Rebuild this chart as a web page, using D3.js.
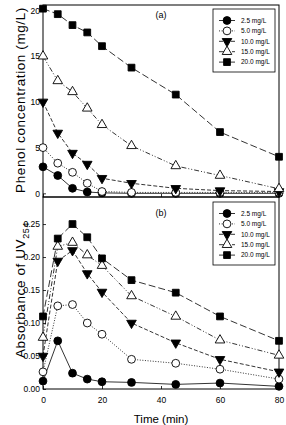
<!DOCTYPE html>
<html>
<head>
<meta charset="utf-8">
<script src="https://cdn.jsdelivr.net/npm/d3@7/dist/d3.min.js"></script>
<style>
  body { margin: 0; background: #fff; }
  svg text { font-family: "Liberation Sans", Arial, sans-serif; fill: #000; }
  .tick text { font-size: 8.5px; }
  .legend-text { font-family: "Liberation Sans Narrow", "Liberation Sans", Arial, sans-serif; font-size: 6.5px; }
</style>
</head>
<body>
<svg width="286" height="425"></svg>
<script>
// Sampling times (min), shared by both panels
const times = [0, 5, 10, 15, 20, 30, 45, 60, 80];
const seriesLabels = ["2.5 mg/L", "5.0 mg/L", "10.0 mg/L", "15.0 mg/L", "20.0 mg/L"];

// (a) phenol concentration, mg/L
const phenol25 = [2.9, 1.95, 0.55, 0.15, 0.05, 0.0, 0.0, 0.0, 0.0];
const phenol50 = [5.0, 3.3, 2.3, 1.1, 0.2, 0.1, 0.1, 0.1, 0.1];
const phenol100 = [10.0, 6.6, 4.4, 3.2, 1.65, 1.1, 0.55, 0.3, 0.2];
const phenol150 = [15.0, 12.3, 11.1, 9.3, 7.5, 5.2, 3.0, 1.95, 0.5];
const phenol200 = [20.2, 19.6, 18.4, 17.6, 16.1, 13.75, 10.8, 6.7, 4.0];

// (b) absorbance at 254 nm
const uv25 = [0.012, 0.073, 0.024, 0.015, 0.011, 0.01, 0.007, 0.009, 0.004];
const uv50 = [0.026, 0.126, 0.128, 0.1, 0.083, 0.045, 0.039, 0.03, 0.015];
const uv100 = [0.05, 0.194, 0.21, 0.175, 0.147, 0.1, 0.07, 0.045, 0.026];
const uv150 = [0.078, 0.216, 0.222, 0.203, 0.187, 0.141, 0.11, 0.074, 0.051];
const uv200 = [0.11, 0.228, 0.25, 0.23, 0.198, 0.165, 0.146, 0.11, 0.073];

// tick labels
const xTicks = [0, 20, 40, 60, 80];
const phenolTicks = [0, 5, 10, 15, 20];
const uvTicks = [0, 0.05, 0.1, 0.15, 0.2, 0.25];

const phenolSeries = [phenol25, phenol50, phenol100, phenol150, phenol200];
const uvSeries = [uv25, uv50, uv100, uv150, uv200];

// Marker + line style for each concentration
const styles = [
  { symbol: d3.symbolCircle, size: 48, fill: "#000", rotate: 0, dash: null },
  { symbol: d3.symbolCircle, size: 48, fill: "#fff", rotate: 0, dash: "1,1.6" },
  { symbol: d3.symbolTriangle, size: 40, fill: "#000", rotate: 180, dash: "4,2" },
  { symbol: d3.symbolTriangle, size: 40, fill: "#fff", rotate: 0, dash: "5,2,1,2,1,2" },
  { symbol: d3.symbolSquare, size: 46, fill: "#000", rotate: 0, dash: "7,3" }
];

svg = d3.select("svg");

// both panels share the same x range
x = d3.scaleLinear().domain([0, 80]).range([43, 279]);

panels = [
  {
    data: phenolSeries,
    y: d3.scaleLinear().domain([-0.4, 20.6]).range([197, 5]),
    ticks: phenolTicks,
    fmt: d3.format("d"),
    tag: "(a)",
    tagY: 18,
    legendTop: 9,
    xLabels: false
  },
  {
    data: uvSeries,
    y: d3.scaleLinear().domain([0, 0.291]).range([389, 197]),
    ticks: uvTicks,
    fmt: d3.format(".2f"),
    tag: "(b)",
    tagY: 216,
    legendTop: 202,
    xLabels: true
  }
];

panels.forEach(function(p) {
  const top = p.y.range()[1];
  const bottom = p.y.range()[0];
  const g = svg.append("g");

  // y axis, ticks pointing inward
  const yAxis = d3.axisLeft(p.y).tickValues(p.ticks).tickFormat(p.fmt)
    .tickSize(-3).tickPadding(3).tickSizeOuter(0);
  g.append("g").attr("transform", "translate(43,0)").call(yAxis)
    .call(function(s) { s.select(".domain").remove(); });

  // x axis at the bottom of the panel
  const xAxis = d3.axisBottom(x).tickValues(xTicks).tickSize(-3).tickPadding(8).tickSizeOuter(0);
  const xg = g.append("g").attr("transform", "translate(0," + bottom + ")").call(xAxis);
  xg.select(".domain").remove();
  if (!p.xLabels) xg.selectAll("text").remove();

  g.selectAll(".tick line").attr("stroke", "#000").attr("stroke-width", 0.8);

  // frame
  g.append("rect")
    .attr("x", 43).attr("y", top)
    .attr("width", 279 - 43).attr("height", bottom - top)
    .attr("fill", "none").attr("stroke", "#000").attr("stroke-width", 1);

  const line = d3.line()
    .x(function(d, i) { return x(times[i]); })
    .y(function(d) { return p.y(d); });

  // lines first, then markers on top (later series over earlier ones)
  p.data.forEach(function(vals, s) {
    g.append("path")
      .attr("d", line(vals))
      .attr("fill", "none")
      .attr("stroke", "#000")
      .attr("stroke-width", 0.8)
      .attr("stroke-dasharray", styles[s].dash);
  });
  p.data.forEach(function(vals, s) {
    const st = styles[s];
    g.selectAll(null)
      .data(vals)
      .enter()
      .append("path")
      .attr("d", d3.symbol().type(st.symbol).size(st.size))
      .attr("transform", function(d, i) {
        return "translate(" + x(times[i]) + "," + p.y(d) + ") rotate(" + st.rotate + ")";
      })
      .attr("fill", st.fill)
      .attr("stroke", "#000")
      .attr("stroke-width", 0.9);
  });

  // panel tag
  g.append("text").attr("x", 161).attr("y", p.tagY)
    .attr("text-anchor", "middle").style("font-size", "9px").text(p.tag);

  // legend box
  const lg = g.append("g").attr("transform", "translate(213," + p.legendTop + ")");
  lg.append("rect").attr("width", 62).attr("height", 63)
    .attr("fill", "#fff").attr("stroke", "#000").attr("stroke-width", 0.8);
  seriesLabels.forEach(function(lab, s) {
    const st = styles[s];
    const ry = 11.5 + s * 10.4;
    lg.append("line").attr("x1", 6).attr("x2", 22).attr("y1", ry).attr("y2", ry)
      .attr("stroke", "#000").attr("stroke-width", 0.8)
      .attr("stroke-dasharray", st.dash);
    lg.append("path")
      .attr("d", d3.symbol().type(st.symbol).size(st.size))
      .attr("transform", "translate(14," + ry + ") rotate(" + st.rotate + ")")
      .attr("fill", st.fill).attr("stroke", "#000").attr("stroke-width", 0.9);
    lg.append("text").attr("class", "legend-text")
      .attr("x", 28).attr("y", ry + 2.3).text(lab);
  });
});

// axis titles
svg.append("text")
  .attr("transform", "translate(25,100) rotate(-90)")
  .attr("text-anchor", "middle")
  .style("font-size", "13.5px").style("letter-spacing", "0.6px")
  .text("Phenol concentration (mg/L)");

const uvTitle = svg.append("text")
  .attr("transform", "translate(25,290) rotate(-90)")
  .attr("text-anchor", "middle")
  .style("font-size", "13.5px").style("letter-spacing", "0.6px");
uvTitle.append("tspan").text("Absorbance of UV");
uvTitle.append("tspan").attr("dy", 3.5).style("font-size", "9px").text("254");

svg.append("text")
  .attr("x", 161).attr("y", 423)
  .attr("text-anchor", "middle")
  .style("font-size", "11.5px")
  .text("Time (min)");
</script>
</body>
</html>
